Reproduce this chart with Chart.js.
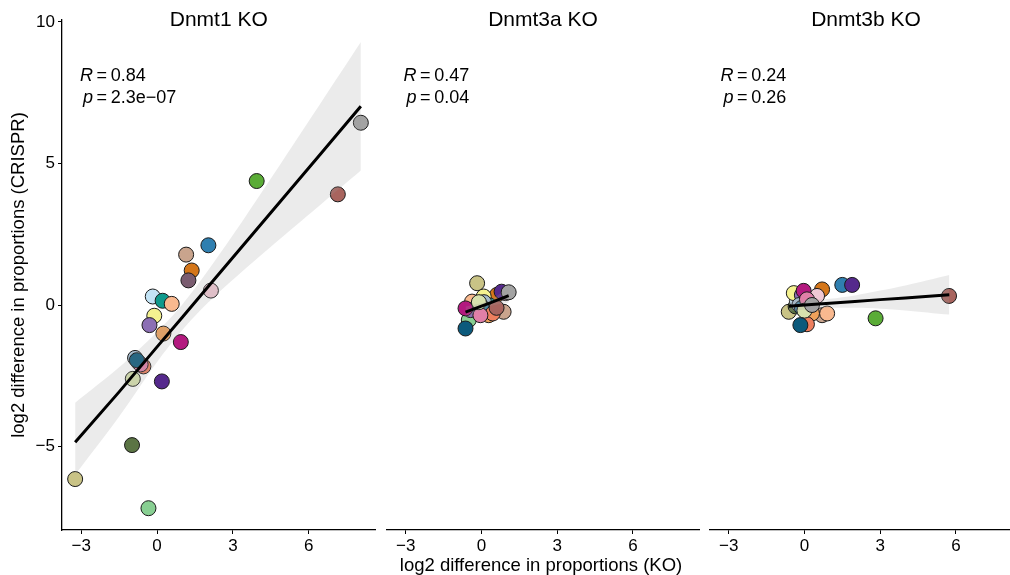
<!DOCTYPE html>
<html>
<head>
<meta charset="utf-8">
<script src="https://cdn.jsdelivr.net/npm/chart.js@4.4.1/dist/chart.umd.min.js"></script>
<style>
body { margin: 0; width: 1010px; height: 575px; overflow: hidden; background: #fff; position: relative;
       font-family: "Liberation Sans", Arial, sans-serif; }
canvas { position: absolute; top: 0; }
#xtitle { position: absolute; left: 291px; width: 500px; top: 554px; text-align: center; font-size: 18.5px; color: #000; }
</style>
</head>
<body>
<canvas id="c1" width="378" height="575" style="left:0px"></canvas>
<canvas id="c2" width="313" height="575" style="left:386px"></canvas>
<canvas id="c3" width="313" height="575" style="left:709px"></canvas>
<div id="xtitle">log2 difference in proportions (KO)</div>
<script>
// Farben je Zelltyp (gleiche Reihenfolge in allen Panels)
const cellColors = [
  '#c9c386', '#5b7444', '#88cf92', '#5aac36', '#2f7fb0', '#c9a48d', '#d4761a', '#7a5c70',
  '#f0c8d4', '#c3e4f6', '#109a8c', '#f9b98f', '#f5f290', '#8c6fb4', '#efa25b', '#b3197f',
  '#a6bccd', '#4a88a4', '#ee7f5e', '#e07fa8', '#d8e2ae', '#55298c', '#a3a3a3', '#a8645e', '#0c5a7c'
];

const panelTitles = ['Dnmt1 KO', 'Dnmt3a KO', 'Dnmt3b KO'];
const corrR = ['0.84', '0.47', '0.24'];
const corrP = ['2.3e\u221207', '0.04', '0.26'];

// Dnmt1 KO
const ko1X = [-3.24, -0.99, -0.34, 3.94, 2.03, 1.15, 1.37, 1.24, 2.13, -0.17, 0.22, 0.58, -0.11,
  -0.30, 0.25, 0.94, -0.87, -0.74, -0.54, -0.65, -0.96, 0.19, 8.06, 7.15, -0.80];
const ko1Y = [-6.15, -4.95, -7.18, 4.38, 2.11, 1.78, 1.22, 0.87, 0.51, 0.30, 0.15, 0.04, -0.38,
  -0.71, -1.01, -1.31, -1.87, -2.02, -2.17, -2.10, -2.61, -2.70, 6.44, 3.91, -1.95];
// Dnmt3a KO
const ko3aX = [-0.17, -0.20, -0.50, 0.10, 0.20, 0.88, 0.62, 0.95, 0.00, -0.30, 0.30, -0.37, 0.09,
  -0.43, 0.29, -0.63, 0.10, 0.00, 0.45, -0.04, -0.10, 0.80, 1.08, 0.60, -0.63];
const ko3aY = [0.77, -0.10, -0.53, -0.20, 0.05, -0.24, 0.36, 0.42, 0.00, 0.00, 0.00, 0.12, 0.30,
  -0.18, -0.36, -0.12, 0.10, -0.05, -0.30, -0.36, 0.10, 0.47, 0.45, -0.10, -0.83];
// Dnmt3b KO
const ko3bX = [-0.62, -0.35, 0.24, 2.82, 1.50, 0.70, 0.70, 0.30, 0.50, -0.30, 0.10, 0.90, -0.42,
  -0.10, 0.30, -0.03, -0.20, -0.10, 0.10, 0.10, 0.00, 1.89, 0.30, 5.73, -0.16];
const ko3bY = [-0.24, -0.05, -0.18, -0.47, 0.71, -0.36, 0.55, 0.10, 0.32, 0.15, 0.05, -0.30, 0.42,
  0.35, -0.30, 0.50, 0.00, -0.10, -0.68, 0.20, -0.20, 0.71, 0.00, 0.32, -0.71];

// Regressionsgerade und Konfidenzband
const fit1X = [-3.24, -1.5, 0, 1, 2, 3.5, 5, 6.5, 8.06];
const fit1Y = [-4.85, -3.07, -1.48, -0.43, 0.63, 2.21, 3.79, 5.37, 7.02];
const band1Hi = [-3.45, -2.20, -0.95, 0.02, 1.20, 3.13, 5.14, 7.17, 9.29];
const band1Lo = [-6.00, -3.94, -2.01, -0.88, 0.07, 1.29, 2.44, 3.57, 4.75];

const fit2X = [-0.63, 0, 0.3, 1.08];
const fit2Y = [-0.25, -0.04, 0.06, 0.33];
const band2Hi = [-0.05, 0.06, 0.16, 0.58];
const band2Lo = [-0.45, -0.14, -0.04, 0.08];

const fit3X = [-0.62, 0, 1, 2, 3, 4, 5.74];
const fit3Y = [-0.04, 0.00, 0.06, 0.12, 0.19, 0.25, 0.36];
const band3Hi = [0.16, 0.16, 0.22, 0.34, 0.51, 0.69, 1.06];
const band3Lo = [-0.24, -0.16, -0.10, -0.10, -0.13, -0.19, -0.34];

const xTicks = [-3, 0, 3, 6];
const yTicks = [-5, 0, 5, 10];

const FONT = '"Liberation Sans", Arial, sans-serif';
const panelLeft = [62, 386, 709];
const panelWidth = 313;
const minus = v => String(v).replace('-', '\u2212');

function toPoints(xs, ys) {
  return xs.map((x, i) => ({ x: x, y: ys[i] }));
}

function drawStat(ctx, x, y, sym, val) {
  ctx.font = 'italic 18px ' + FONT;
  ctx.fillText(sym, x, y);
  const w = ctx.measureText(sym).width;
  ctx.font = '18px ' + FONT;
  ctx.fillText('\u2009=\u2009' + val, x + w, y);
}

const facetText = {
  id: 'facetText',
  afterDraw(chart, args, opts) {
    const ctx = chart.ctx;
    const a = chart.chartArea;
    ctx.save();
    ctx.fillStyle = '#000';
    ctx.font = '21px ' + FONT;
    ctx.textAlign = 'center';
    ctx.textBaseline = 'middle';
    ctx.fillText(opts.title, (a.left + a.right) / 2, 20);
    ctx.textAlign = 'left';
    ctx.textBaseline = 'alphabetic';
    drawStat(ctx, a.left + opts.labelX, 81, 'R', opts.r);
    drawStat(ctx, a.left + opts.labelX + 3, 103, 'p', opts.p);
    ctx.restore();
  }
};

function panelConfig(idx, xs, ys, fx, fy, hi, lo, showY, labelX) {
  const yScale = {
    type: 'linear', min: -7.95, max: 10.07, display: showY,
    afterBuildTicks: s => { s.ticks = yTicks.map(v => ({ value: v })); },
    ticks: { color: '#000', font: { size: 17, family: FONT }, padding: 3, callback: v => minus(v) },
    grid: { display: true, drawOnChartArea: false, drawTicks: true, tickLength: 4, color: '#000' },
    border: { display: true, color: '#000', width: 1.3 },
    title: {
      display: true, text: 'log2 difference in proportions (CRISPR)', color: '#000',
      font: { size: 18.5, family: FONT }, padding: { top: 8, bottom: 0 }
    }
  };
  if (showY) yScale.afterFit = s => { s.width = 62; };
  return {
    type: 'scatter',
    data: {
      datasets: [
        {
          type: 'line', data: toPoints(fx, fy), borderColor: '#000', borderWidth: 3,
          pointRadius: 0, fill: false, order: 0
        },
        {
          type: 'line', data: toPoints(fx, hi), borderWidth: 0, borderColor: 'rgba(0,0,0,0)',
          backgroundColor: 'rgba(153,153,153,0.2)', pointRadius: 0, fill: '+1', tension: 0.3, order: 1
        },
        {
          type: 'line', data: toPoints(fx, lo), borderWidth: 0, borderColor: 'rgba(0,0,0,0)',
          pointRadius: 0, fill: false, tension: 0.3, order: 1
        },
        {
          data: toPoints(xs, ys), backgroundColor: cellColors, borderColor: '#1a1a1a',
          borderWidth: 1, pointRadius: 7.5, pointHoverRadius: 7.5, order: 2
        }
      ]
    },
    options: {
      responsive: false,
      maintainAspectRatio: false,
      animation: false,
      layout: { padding: { top: 20, left: 0, right: 0, bottom: 0 } },
      plugins: {
        legend: { display: false },
        tooltip: { enabled: false },
        facetText: { title: panelTitles[idx], r: corrR[idx], p: corrP[idx], labelX: labelX }
      },
      scales: {
        x: {
          type: 'linear', min: -3.76, max: 8.64,
          afterBuildTicks: s => { s.ticks = xTicks.map(v => ({ value: v })); },
          afterFit: s => { s.height = 45; },
          ticks: { color: '#000', font: { size: 17, family: FONT }, padding: 2, callback: v => minus(v) },
          grid: { display: true, drawOnChartArea: false, drawTicks: true, tickLength: 4, color: '#000' },
          border: { display: true, color: '#000', width: 1.3 }
        },
        y: yScale
      }
    },
    plugins: [facetText]
  };
}

function makePanel(id, idx, xs, ys, fx, fy, hi, lo, showY, labelX) {
  const canvas = document.getElementById(id);
  let chart = new Chart(canvas, panelConfig(idx, xs, ys, fx, fy, hi, lo, showY, labelX));
  const ca = chart.chartArea;
  const extra = Math.round(panelWidth - (ca.right - ca.left));
  if (extra !== 0) {
    const w = canvas.width + extra;
    chart.destroy();
    canvas.width = w;
    canvas.height = 575;
    canvas.style.width = w + 'px';
    canvas.style.height = '575px';
    chart = new Chart(canvas, panelConfig(idx, xs, ys, fx, fy, hi, lo, showY, labelX));
  }
  canvas.style.left = (panelLeft[idx] - chart.chartArea.left) + 'px';
}

makePanel('c1', 0, ko1X, ko1Y, fit1X, fit1Y, band1Hi, band1Lo, true, 18);
makePanel('c2', 1, ko3aX, ko3aY, fit2X, fit2Y, band2Hi, band2Lo, false, 17);
makePanel('c3', 2, ko3bX, ko3bY, fit3X, fit3Y, band3Hi, band3Lo, false, 11);
</script>
</body>
</html>
